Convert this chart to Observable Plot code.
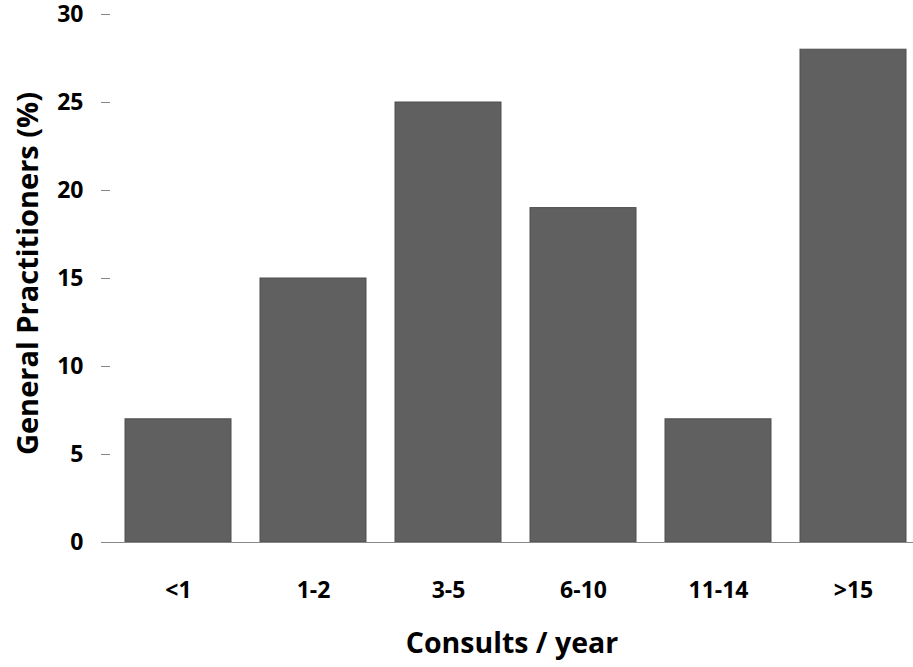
<!DOCTYPE html>
<html>
<head>
<meta charset="utf-8">
<script src="https://cdn.jsdelivr.net/npm/d3@7"></script>
<script src="https://cdn.jsdelivr.net/npm/@observablehq/plot@0.6"></script>
<style>
  html, body { margin: 0; padding: 0; background: #fff; }
  svg text { font-family: "Open Sans", "DejaVu Sans", sans-serif; font-weight: bold; fill: #000; }
</style>
</head>
<body>
<div id="chart"></div>
<script>
const categories = ["<1", "1-2", "3-5", "6-10", "11-14", ">15"];
const values = [7, 15, 25, 19, 7, 28];
const yTicks = [0, 5, 10, 15, 20, 25, 30];
const xTitle = "Consults / year";
const yTitle = "General Practitioners (%)";

const data = categories.map((c, i) => ({category: c, value: values[i]}));

const chart = Plot.plot({
  width: 913,
  height: 667,
  marginLeft: 110,
  marginRight: 0,
  marginTop: 14,
  marginBottom: 125,
  style: {background: "#fff", overflow: "visible"},
  x: {domain: categories, range: [110, 921], paddingInner: 0.215, paddingOuter: 0.107},
  y: {domain: [0, 30]},
  marks: [
    Plot.barY(data, {x: "category", y: "value", fill: "#606060", stroke: "#4e4e4e", strokeWidth: 1, inset: 0}),
    Plot.axisY({ticks: yTicks, tickSize: 9, tickPadding: 18, stroke: "#888", fontSize: 23, label: null}),
    Plot.ruleX([0], {x: () => 110, y1: 0, y2: 30, stroke: "#888", strokeWidth: 1.2}),
    Plot.ruleY([0], {stroke: "#888", strokeWidth: 1.2}),
    Plot.axisX({tickSize: 0, tickPadding: 39, fontSize: 23, label: null}),
    Plot.text([xTitle], {frameAnchor: "bottom", dy: 101, fontSize: 28.5, lineAnchor: "middle", text: d => d}),
    Plot.text([yTitle], {frameAnchor: "left", textAnchor: "middle", lineAnchor: "middle", dx: -82, dy: -5, rotate: -90, fontSize: 29, text: d => d})
  ]
});
document.getElementById("chart").appendChild(chart);
</script>
</body>
</html>
